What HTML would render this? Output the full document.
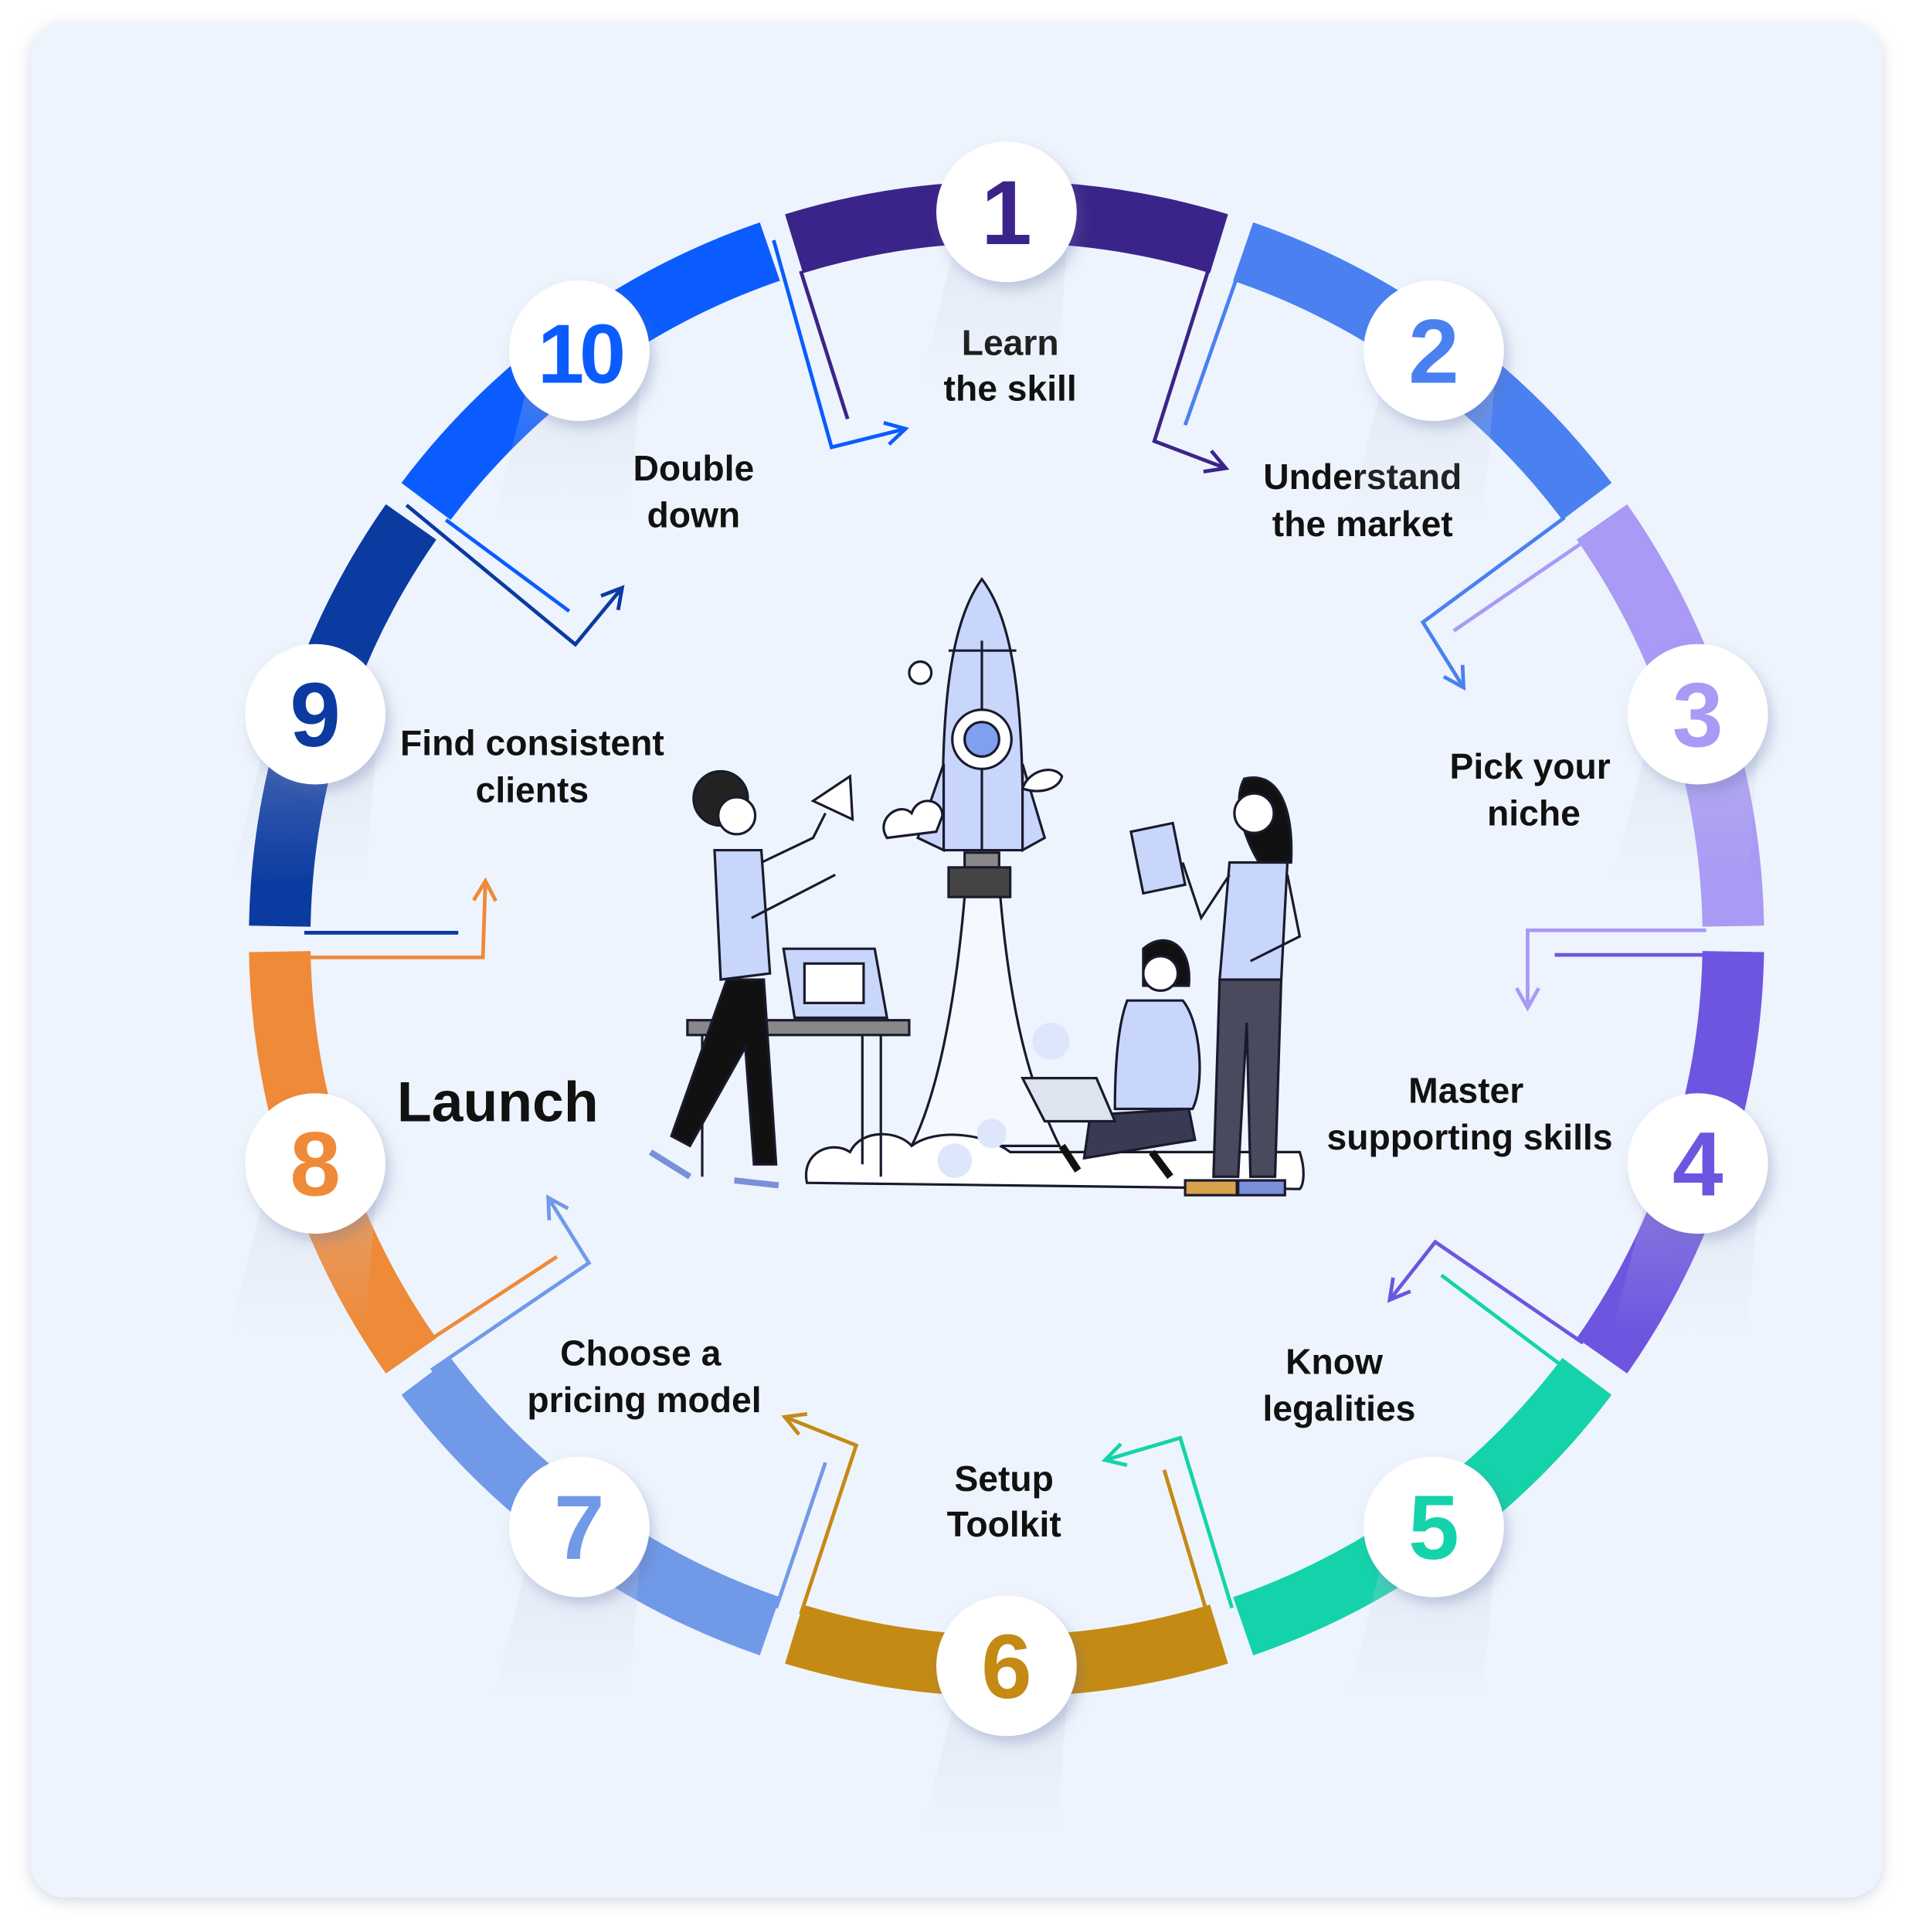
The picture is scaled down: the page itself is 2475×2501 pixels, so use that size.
<!DOCTYPE html>
<html><head><meta charset="utf-8">
<style>
html,body{margin:0;padding:0;background:#fff;}
svg{display:block;}
text{font-family:"Liberation Sans",sans-serif;}
</style></head>
<body>
<svg id="s" width="2475" height="2501" viewBox="0 0 1552 1568" preserveAspectRatio="none" xmlns="http://www.w3.org/2000/svg">
<defs>
<filter id="sh" x="-20%" y="-20%" width="140%" height="140%"><feDropShadow dx="0" dy="3" stdDeviation="6" flood-color="#8090b0" flood-opacity="0.35"/></filter>
<filter id="cs" x="-50%" y="-50%" width="200%" height="200%"><feDropShadow dx="4" dy="6" stdDeviation="5" flood-color="#6070a0" flood-opacity="0.3"/></filter>
<linearGradient id="fade" x1="0" y1="0" x2="0" y2="1"><stop offset="0" stop-color="#c8d0e0" stop-opacity="0.5"/><stop offset="1" stop-color="#c8d0e0" stop-opacity="0"/></linearGradient>
</defs>
<rect x="25" y="18" width="1503" height="1522" rx="28" fill="#eef4fd" filter="url(#sh)"/>
<g id="ring"></g>
<g id="conn" fill="none" stroke-width="3" stroke-linejoin="miter"></g>

<g stroke="#1a1a2e" stroke-width="2" fill="none">
  <path d="M783 728 C775 820 760 890 740 930 L860 930 C835 880 820 820 812 728" fill="#f5f8ff"/>
  <path d="M655 960 C650 935 675 925 690 935 C700 915 730 918 740 930 C760 915 800 920 820 935 L1055 935 C1060 950 1058 962 1055 965 L655 960 Z" fill="#fff"/>
  <circle cx="775" cy="942" r="14" fill="#dde6fa" stroke="none"/>
  <circle cx="805" cy="920" r="12" fill="#dde6fa" stroke="none"/>
  <circle cx="853" cy="845" r="15" fill="#dde6fa" stroke="none"/>
  <path d="M797 470 C820 500 832 560 830 690 L766 690 C762 560 775 500 797 470 Z" fill="#c9d6fb"/>
  <path d="M766 620 L745 680 L766 690 Z M830 620 L848 680 L830 690 Z" fill="#c9d6fb"/>
  <line x1="797" y1="520" x2="797" y2="690"/>
  <path d="M770 528 L825 528" />
  <circle cx="797" cy="600" r="24" fill="#fff"/>
  <circle cx="797" cy="600" r="14" fill="#7ea0ee"/>
  <rect x="783" y="692" width="28" height="12" fill="#888"/>
  <rect x="770" y="704" width="50" height="24" fill="#444"/>
  <circle cx="747" cy="546" r="9" fill="#fff"/>
  <path d="M720 680 C710 665 730 650 740 660 C745 645 765 648 765 662 L760 675 Z" fill="#fff"/>
  <path d="M830 640 C835 625 855 620 862 630 C860 640 845 645 830 640 Z" fill="#fff"/>
  <rect x="558" y="828" width="180" height="12" fill="#888"/>
  <line x1="570" y1="840" x2="570" y2="955"/><line x1="715" y1="840" x2="715" y2="955"/><line x1="700" y1="840" x2="700" y2="945"/>
  <path d="M636 770 L710 770 L720 826 L645 826 Z" fill="#c9d6fb"/>
  <rect x="653" y="782" width="48" height="32" fill="#fff"/>
  <circle cx="585" cy="648" r="22" fill="#222"/>
  <circle cx="598" cy="662" r="15" fill="#fff"/>
  <path d="M580 690 L618 690 L625 790 L585 795 Z" fill="#c9d6fb"/>
  <path d="M590 795 L620 795 L630 945 L612 945 L605 850 L560 930 L545 922 Z" fill="#111"/>
  <path d="M618 700 L660 680 L670 660 M610 745 L678 710"/>
  <path d="M660 650 L690 630 L692 665 Z" fill="#fff"/>
  <path d="M528 935 L560 955 M596 958 L632 962" stroke-width="5" stroke="#7a90d8"/>
  <path d="M1010 632 C1040 625 1050 660 1048 700 L1022 700 C1010 680 1000 650 1010 632 Z" fill="#111"/>
  <circle cx="1018" cy="660" r="16" fill="#fff"/>
  <path d="M998 700 L1045 700 L1040 795 L990 795 Z" fill="#c9d6fb"/>
  <path d="M990 795 L1040 795 L1035 955 L1015 955 L1012 830 L1005 955 L985 955 Z" fill="#4a4a5e"/>
  <path d="M998 710 L975 745 L960 700 M1045 710 L1055 760 L1015 780"/>
  <path d="M918 675 L952 668 L962 718 L928 725 Z" fill="#c9d6fb"/>
  <rect x="962" y="958" width="42" height="12" fill="#d8a24a"/><rect x="1005" y="958" width="38" height="12" fill="#7a90d8"/>
  <path d="M928 770 C945 755 968 765 965 800 L928 800 Z" fill="#111"/>
  <circle cx="942" cy="790" r="14" fill="#fff"/>
  <path d="M915 812 L960 812 C975 830 978 880 968 900 L905 900 C905 860 908 830 915 812 Z" fill="#c9d6fb"/>
  <path d="M885 905 L965 900 L970 925 L880 940 Z" fill="#3a3a55"/>
  <path d="M830 875 L890 875 L905 910 L848 910 Z" fill="#dde3ef"/>
  <path d="M862 930 L875 950 M935 935 L950 955" stroke-width="6" stroke="#111"/>
</g>

<g font-weight="bold" fill="#111" font-size="29" text-anchor="middle">
  <text x="820" y="288">Learn</text><text x="820" y="325">the skill</text>
  <text x="1106" y="397">Understand</text><text x="1106" y="435">the market</text>
  <text x="1242" y="632">Pick your</text><text x="1245" y="670">niche</text>
  <text x="1190" y="895">Master</text><text x="1193" y="933">supporting skills</text>
  <text x="1083" y="1115">Know</text><text x="1087" y="1153">legalities</text>
  <text x="815" y="1210">Setup</text><text x="815" y="1247">Toolkit</text>
  <text x="520" y="1108">Choose a</text><text x="523" y="1146">pricing model</text>
  <text x="432" y="613">Find consistent</text><text x="432" y="651">clients</text>
  <text x="563" y="390">Double</text><text x="563" y="428">down</text>
  <text x="404" y="910" font-size="46">Launch</text>
</g>
<g id="circ"></g>

<script>
var NS="http://www.w3.org/2000/svg";
var cx=817,cy=762,R=590;
var cols=["#3b2489","#4a80f0","#a99af5","#6e55e0","#14d3aa","#c48a14","#7099e8","#ef8a38","#0b3aa0","#0a5cff"];
var ring=document.getElementById("ring"),circ=document.getElementById("circ"),conn=document.getElementById("conn");
function P(a,r){a=a*Math.PI/180;return [cx+r*Math.cos(a),cy+r*Math.sin(a)];}
function el(t,at,par){var e=document.createElementNS(NS,t);for(var k in at)e.setAttribute(k,at[k]);par.appendChild(e);return e;}
for(var i=0;i<10;i++){
  var a=-90+36*i;
  var p1=P(a-17,R),p2=P(a+17,R);
  el("path",{d:"M"+p1[0]+" "+p1[1]+" A"+R+" "+R+" 0 0 1 "+p2[0]+" "+p2[1],fill:"none",stroke:cols[i],"stroke-width":50,"stroke-linecap":"butt"},ring);
}
for(var i=0;i<10;i++){
  var a=-90+36*i,c=P(a,R);
  el("path",{d:"M"+(c[0]-40)+" "+(c[1]+20)+" L"+(c[0]+50)+" "+(c[1]+20)+" L"+(c[0]+40)+" "+(c[1]+140)+" L"+(c[0]-70)+" "+(c[1]+140)+" Z",fill:"url(#fade)",opacity:0.6},circ);
}
for(var i=0;i<10;i++){
  var a=-90+36*i,c=P(a,R);
  el("circle",{cx:c[0],cy:c[1],r:57,fill:"#fff",filter:"url(#cs)"},circ);
  var t=el("text",{x:c[0],y:c[1]+26,"text-anchor":"middle","font-size":i==9?68:74,"font-weight":"bold",fill:cols[i],"font-family":"Liberation Sans, sans-serif","letter-spacing":i==9?-4:0},circ);
  t.textContent=String(i+1);
}
var C=[
 [[[628,195],[675,363],[735,348]],9,[[650,220],[688,340]],0],
 [[[990,190],[937,358],[995,380]],0,[[1003,228],[962,345]],1],
 [[[1270,420],[1155,505],[1188,558]],1,[[1285,440],[1180,512]],2],
 [[[1385,755],[1240,755],[1240,818]],2,[[1262,775],[1385,775]],3],
 [[[1285,1090],[1165,1008],[1128,1055]],3,[[1270,1110],[1170,1035]],4],
 [[[1000,1305],[958,1167],[897,1185]],4,[[980,1310],[945,1193]],5],
 [[[650,1310],[695,1173],[637,1150]],5,[[630,1305],[670,1187]],6],
 [[[350,1112],[478,1025],[445,972]],6,[[345,1090],[452,1020]],7],
 [[[247,777],[392,777],[394,715]],7,[[247,757],[372,757]],8],
 [[[330,410],[467,523],[505,477]],8,[[362,422],[462,496]],9]
];
C.forEach(function(c){
  var pts=c[0],col=cols[c[1]];
  el("polyline",{points:pts.map(function(p){return p.join(",")}).join(" "),stroke:col},conn);
  el("polyline",{points:c[2].map(function(p){return p.join(",")}).join(" "),stroke:cols[c[3]]},conn);
  var A=pts[1],B=pts[2],dx=B[0]-A[0],dy=B[1]-A[1],L=Math.hypot(dx,dy);dx/=L;dy/=L;
  var s=16,w=9;
  var h1=[B[0]-dx*s-dy*w,B[1]-dy*s+dx*w],h2=[B[0]-dx*s+dy*w,B[1]-dy*s-dx*w];
  el("polyline",{points:h1.join(",")+" "+B.join(",")+" "+h2.join(","),stroke:col},conn);
});
</script>
</svg>
</body></html>
